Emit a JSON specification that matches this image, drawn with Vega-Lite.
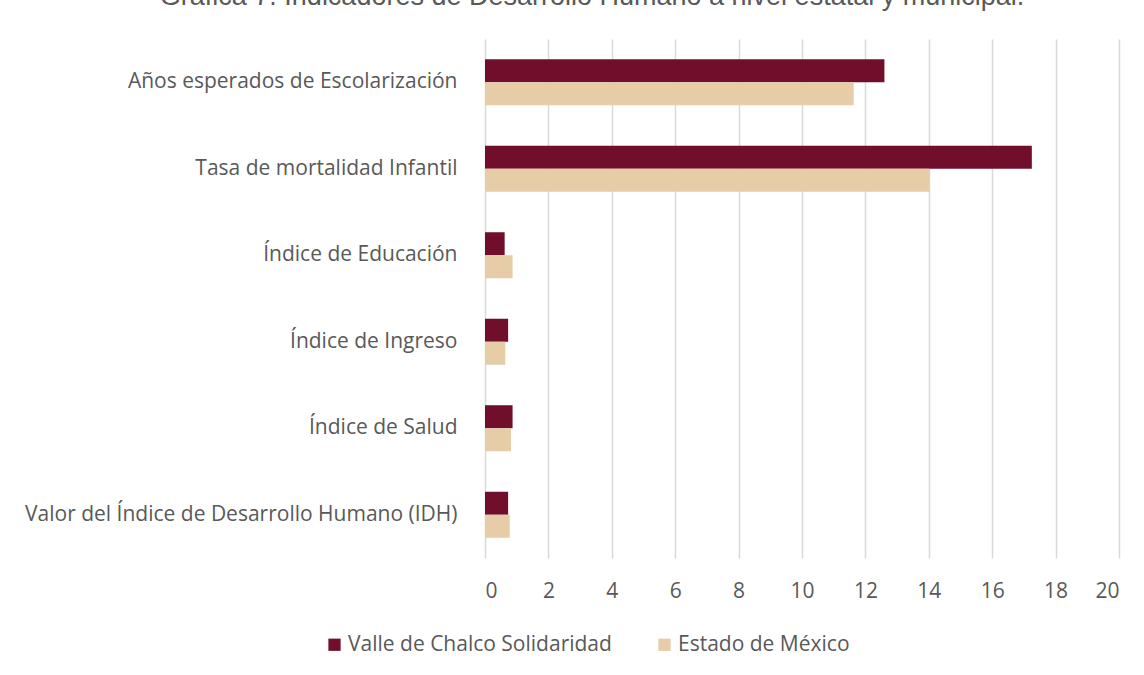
{
  "$schema": "https://vega.github.io/schema/vega-lite/v6.json",
  "autosize": "none",
  "padding": {"left": 485, "top": 39, "right": 25, "bottom": 117},
  "width": 634,
  "height": 519,
  "background": "white",
  "title": {
    "text": "Gráfica 7. Indicadores de Desarrollo Humano a nivel estatal y municipal.",
    "font": "Liberation Sans",
    "fontSize": 27,
    "fontWeight": "normal",
    "color": "#595959",
    "anchor": "middle",
    "offset": 28,
    "dx": -210
  },
  "data": {
    "values": [
      {"indicador": "Años esperados de Escolarización", "serie": "Valle de Chalco Solidaridad", "valor": 12.6},
      {"indicador": "Años esperados de Escolarización", "serie": "Estado de México", "valor": 11.63},
      {"indicador": "Tasa de mortalidad Infantil ", "serie": "Valle de Chalco Solidaridad", "valor": 17.25},
      {"indicador": "Tasa de mortalidad Infantil ", "serie": "Estado de México", "valor": 14.02},
      {"indicador": "Índice de Educación", "serie": "Valle de Chalco Solidaridad", "valor": 0.62},
      {"indicador": "Índice de Educación", "serie": "Estado de México", "valor": 0.87},
      {"indicador": "Índice de Ingreso", "serie": "Valle de Chalco Solidaridad", "valor": 0.73},
      {"indicador": "Índice de Ingreso", "serie": "Estado de México", "valor": 0.64},
      {"indicador": "Índice de Salud", "serie": "Valle de Chalco Solidaridad", "valor": 0.87},
      {"indicador": "Índice de Salud", "serie": "Estado de México", "valor": 0.82},
      {"indicador": "Valor del Índice de Desarrollo Humano (IDH)", "serie": "Valle de Chalco Solidaridad", "valor": 0.73},
      {"indicador": "Valor del Índice de Desarrollo Humano (IDH)", "serie": "Estado de México", "valor": 0.78}
    ]
  },
  "mark": {"type": "bar"},
  "encoding": {
    "y": {
      "field": "indicador",
      "type": "nominal",
      "sort": null,
      "scale": {"paddingInner": 0.468, "paddingOuter": 0.234},
      "axis": {
        "title": null,
        "domain": false,
        "ticks": false,
        "labelPadding": 28,
        "labelFont": "Open Sans",
        "labelFontSize": 21,
        "labelColor": "#595959",
        "labelLimit": 600
      }
    },
    "yOffset": {
      "field": "serie",
      "type": "nominal",
      "sort": ["Valle de Chalco Solidaridad", "Estado de México"],
      "scale": {"paddingInner": 0, "paddingOuter": 0}
    },
    "x": {
      "field": "valor",
      "type": "quantitative",
      "scale": {"domain": [0, 20], "nice": false},
      "axis": {
        "title": null,
        "values": [0, 2, 4, 6, 8, 10, 12, 14, 16, 18, 20],
        "domain": false,
        "ticks": false,
        "grid": true,
        "gridColor": "#D9D9D9",
        "gridWidth": 1.5,
        "labelPadding": 22,
        "labelFont": "Open Sans",
        "labelFontSize": 21,
        "labelColor": "#595959"
      }
    },
    "color": {
      "field": "serie",
      "type": "nominal",
      "sort": ["Valle de Chalco Solidaridad", "Estado de México"],
      "scale": {
        "domain": ["Valle de Chalco Solidaridad", "Estado de México"],
        "range": ["#700E2B", "#E6CCA7"]
      },
      "legend": {
        "title": null,
        "orient": "none",
        "direction": "horizontal",
        "legendX": -161,
        "legendY": 595,
        "symbolType": "square",
        "symbolSize": 150,
        "symbolStrokeWidth": 0,
        "labelFont": "Open Sans",
        "labelFontSize": 21,
        "labelColor": "#595959",
        "labelOffset": 3,
        "columnPadding": 42,
        "labelLimit": 400
      }
    }
  },
  "config": {
    "view": {"stroke": null}
  }
}
